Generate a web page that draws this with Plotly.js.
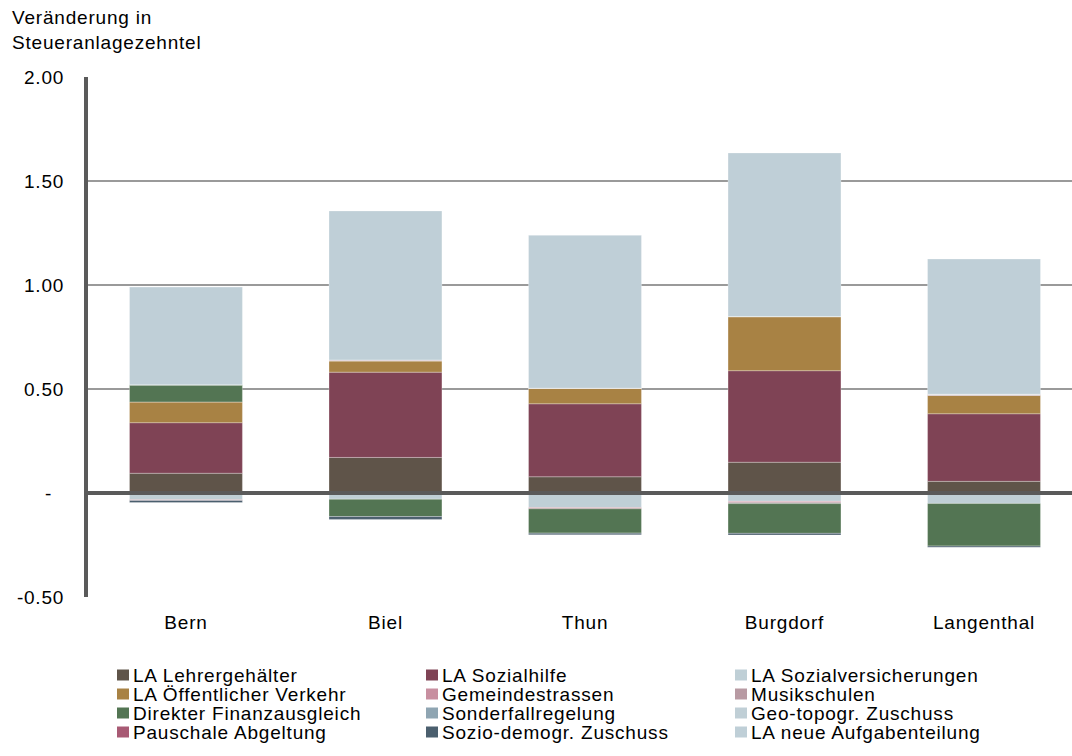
<!DOCTYPE html>
<html>
<head>
<meta charset="utf-8">
<script src="https://cdn.plot.ly/plotly-3.0.1.min.js"></script>
<style>
  html, body { margin: 0; padding: 0; background: #fff; }
  #chart { width: 1072px; height: 756px; }
  svg text { letter-spacing: 0.8px; }
</style>
</head>
<body>
<div id="chart"></div>
<script>
// Städte (Kategorien)
const categories = ['Bern', 'Biel', 'Thun', 'Burgdorf', 'Langenthal'];

// Veränderung in Steueranlagezehntel je Komponente
const laLehrergehaelter      = [0.095, 0.171, 0.078, 0.148, 0.056];
const laSozialhilfe          = [0.243, 0.410, 0.351, 0.440, 0.325];
const laSozialversicherungen = [-0.033, -0.030, -0.070, -0.040, -0.050];
const laOeffentlicherVerkehr = [0.100, 0.054, 0.075, 0.260, 0.088];
const gemeindestrassen       = [-0.003, 0.000, -0.006, -0.004, 0.000];
const musikschulen           = [0.000, 0.005, 0.000, -0.007, 0.006];
const direkterFinanzausgleich= [0.082, -0.083, -0.117, -0.143, -0.205];
const sonderfallregelung     = [0.000, 0.000, 0.000, 0.000, 0.000];
const geoTopoZuschuss        = [0.000, 0.000, 0.000, 0.000, 0.000];
const pauschaleAbgeltung     = [0.000, 0.000, 0.000, 0.000, 0.000];
const soziodemogrZuschuss    = [-0.010, -0.014, -0.008, -0.008, -0.006];
const laNeueAufgabenteilung  = [0.470, 0.716, 0.735, 0.787, 0.650];

const seriesNames = [
  'LA Lehrergehälter', 'LA Sozialhilfe', 'LA Sozialversicherungen',
  'LA Öffentlicher Verkehr', 'Gemeindestrassen', 'Musikschulen',
  'Direkter Finanzausgleich', 'Sonderfallregelung', 'Geo-topogr. Zuschuss',
  'Pauschale Abgeltung', 'Sozio-demogr. Zuschuss', 'LA neue Aufgabenteilung'
];
const seriesValues = [
  laLehrergehaelter, laSozialhilfe, laSozialversicherungen,
  laOeffentlicherVerkehr, gemeindestrassen, musikschulen,
  direkterFinanzausgleich, sonderfallregelung, geoTopoZuschuss,
  pauschaleAbgeltung, soziodemogrZuschuss, laNeueAufgabenteilung
];
const seriesColors = [
  '#5f5449', '#7f4355', '#bfcfd6',
  '#a88244', '#c88fa0', '#b89aa3',
  '#537553', '#8fa5b2', '#c0cfd6',
  '#a85a74', '#4b5f6e', '#bfcfd7'
];

// Achsenbeschriftung im Buchhaltungsformat (Null als Strich)
const yTickVals = [-0.5, 0, 0.5, 1, 1.5, 2];
const yTickText = ['-0.50', '-\u00a0\u00a0', '0.50', '1.00', '1.50', '2.00'];

// Geometrie
const W = 1072, H = 756;
const M = { l: 88, r: 0, t: 77, b: 159 };
const plotW = W - M.l - M.r, plotH = H - M.t - M.b;
const font = { family: 'Liberation Sans, Arial, sans-serif', size: 19, color: '#000' };

const xIdx = categories.map((_, i) => i);

const traces = seriesNames.map((name, k) => ({
  type: 'bar',
  name: name,
  x: xIdx,
  y: seriesValues[k],
  width: 0.566,
  marker: { color: seriesColors[k], line: { width: 0.8, color: 'rgba(255,255,255,0.35)' } },
  hoverinfo: 'name+y'
}));

// Pixel -> Papierkoordinaten
const px2paperX = px => (px - M.l) / plotW;
const px2paperY = py => (M.t + plotH - py) / plotH;

// Legende: 3 Spalten, zeilenweise befüllt
const legendTextX = [133, 442, 751];
const legendRowY = [675, 694, 713, 732];
const legendShapes = [];
const legendAnnots = [];
seriesNames.forEach((name, i) => {
  const col = i % 3, row = Math.floor(i / 3);
  const tx = legendTextX[col], ty = legendRowY[row];
  legendShapes.push({
    type: 'rect', xref: 'paper', yref: 'paper',
    x0: px2paperX(tx - 16), x1: px2paperX(tx - 4),
    y0: px2paperY(ty + 5.5), y1: px2paperY(ty - 5.5),
    fillcolor: seriesColors[i], line: { width: 0 }
  });
  legendAnnots.push({
    xref: 'paper', yref: 'paper', x: px2paperX(tx), y: px2paperY(ty),
    xanchor: 'left', yanchor: 'middle', showarrow: false,
    text: name, font: font, borderpad: 0, borderwidth: 0
  });
});

const layout = {
  width: W, height: H,
  margin: M,
  paper_bgcolor: '#fff', plot_bgcolor: '#fff',
  barmode: 'relative',
  bargap: 0,
  showlegend: false,
  font: font,
  xaxis: {
    range: [-0.491, 4.441],
    tickmode: 'array', tickvals: xIdx, ticktext: categories,
    showgrid: false, zeroline: false, showline: false, ticks: '',
    ticklabelstandoff: 12,
    tickfont: font, fixedrange: true
  },
  yaxis: {
    range: [-0.5, 2.0],
    tickmode: 'array', tickvals: yTickVals, ticktext: yTickText,
    showgrid: true, gridcolor: '#9a9a9a', gridwidth: 2,
    zeroline: false,
    showline: true, linecolor: '#5a5a5a', linewidth: 4,
    ticks: '', ticklabelstandoff: 16,
    tickfont: font, fixedrange: true
  },
  shapes: [
    // Nulllinie über den Balken
    { type: 'line', xref: 'paper', yref: 'y', x0: 0, x1: 1, y0: 0, y1: 0,
      line: { color: '#5a5a5a', width: 4 }, layer: 'above' }
  ].concat(legendShapes),
  annotations: [
    { xref: 'paper', yref: 'paper', x: px2paperX(12), y: px2paperY(7),
      xanchor: 'left', yanchor: 'top', align: 'left', showarrow: false,
      text: 'Veränderung in<br>Steueranlagezehntel', font: font,
      borderpad: 0, borderwidth: 0 }
  ].concat(legendAnnots)
};

Plotly.newPlot('chart', traces, layout, { displayModeBar: false, staticPlot: true });
</script>
</body>
</html>
